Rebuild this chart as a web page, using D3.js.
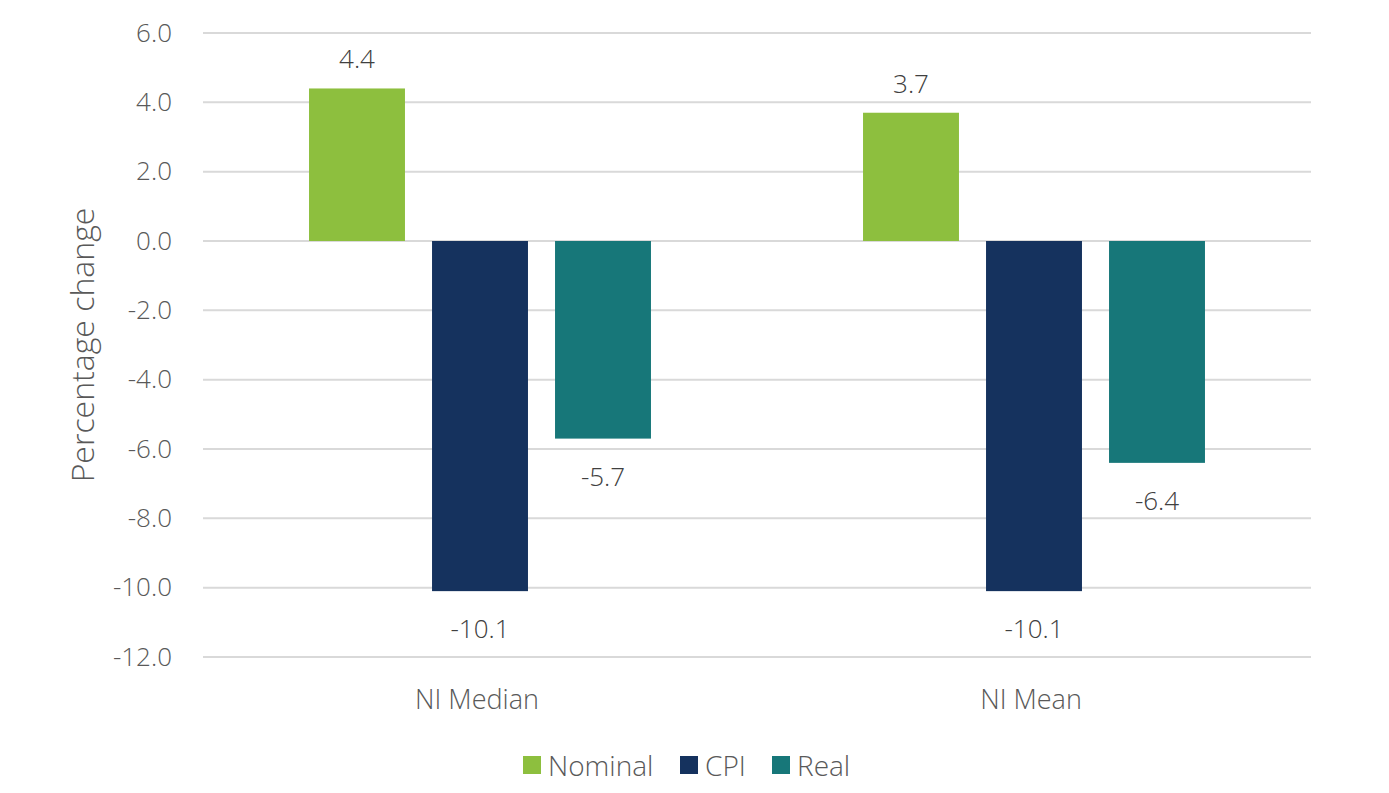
<!DOCTYPE html>
<html>
<head>
<meta charset="utf-8">
<script src="https://cdn.jsdelivr.net/npm/d3@7"></script>
<style>
  html, body { margin: 0; padding: 0; background: #ffffff; }
  svg { display: block; font-family: "Open Sans", sans-serif; font-weight: 300; }
</style>
</head>
<body>
<svg id="chart" width="1389" height="793"></svg>
<script>
const categories = ["NI Median", "NI Mean"];
const seriesNames = ["Nominal", "CPI", "Real"];
const nominalValues = [4.4, 3.7];
const cpiValues = [-10.1, -10.1];
const realValues = [-5.7, -6.4];
const yTicks = [6, 4, 2, 0, -2, -4, -6, -8, -10, -12];
const yTitle = "Percentage change";

const seriesValues = [nominalValues, cpiValues, realValues];
const colors = ["#8dbf3e", "#15325e", "#177779"];

const fmt = v => d3.format(".1f")(v).replace("\u2212", "-");

const svg = d3.select("#chart");
const margin = { left: 203, right: 78, top: 33, bottom: 136 };
const W = 1389, H = 793;

const x0 = d3.scaleBand().domain(categories).range([margin.left, W - margin.right]).paddingInner(0).paddingOuter(0);
const x1 = d3.scaleBand().domain(seriesNames).range([0, x0.bandwidth()]).paddingInner(0.22).paddingOuter(0.862);
const y = d3.scaleLinear().domain([-12, 6]).range([H - margin.bottom, margin.top]);

const textColor = "#595959";

// gridlines
svg.append("g")
  .selectAll("line")
  .data(yTicks)
  .join("line")
  .attr("x1", margin.left)
  .attr("x2", W - margin.right)
  .attr("y1", d => y(d))
  .attr("y2", d => y(d))
  .attr("stroke", "#d9d9d9")
  .attr("stroke-width", 2);

// y axis labels
const yAxis = d3.axisLeft(y).tickValues(yTicks).tickFormat(fmt).tickSize(0).tickPadding(31);
const gy = svg.append("g").attr("transform", `translate(${margin.left},0)`).call(yAxis);
gy.select(".domain").remove();
gy.selectAll("text").attr("fill", textColor).style("font-size", "26px").style("font-family", "'Open Sans', sans-serif").style("font-weight", 300);

// y title
svg.append("text")
  .attr("transform", `translate(81, ${(y(6) + y(-12)) / 2}) rotate(-90)`)
  .attr("text-anchor", "middle")
  .attr("dominant-baseline", "central")
  .attr("fill", textColor)
  .style("font-size", "32px")
  .text(yTitle);

// bars
const groups = svg.append("g")
  .selectAll("g")
  .data(categories)
  .join("g")
  .attr("transform", d => `translate(${x0(d)},0)`);

groups.selectAll("rect")
  .data((c, ci) => seriesNames.map((s, si) => ({ s, si, v: seriesValues[si][ci] })))
  .join("rect")
  .attr("x", d => x1(d.s))
  .attr("width", x1.bandwidth())
  .attr("y", d => y(Math.max(0, d.v)))
  .attr("height", d => Math.abs(y(d.v) - y(0)))
  .attr("fill", d => colors[d.si]);

groups.selectAll("text.val")
  .data((c, ci) => seriesNames.map((s, si) => ({ s, si, v: seriesValues[si][ci] })))
  .join("text")
  .attr("class", "val")
  .attr("x", d => x1(d.s) + x1.bandwidth() / 2)
  .attr("y", d => d.v >= 0 ? y(d.v) - 30 : y(d.v) + 37)
  .attr("text-anchor", "middle")
  .attr("dominant-baseline", "central")
  .attr("fill", "#404040")
  .style("font-size", "26px")
  .text(d => fmt(d.v));

// category labels
svg.append("g")
  .selectAll("text")
  .data(categories)
  .join("text")
  .attr("x", d => x0(d) + x0.bandwidth() / 2 - 3)
  .attr("y", 698)
  .attr("text-anchor", "middle")
  .attr("dominant-baseline", "central")
  .attr("fill", textColor)
  .style("font-size", "27px")
  .text(d => d);

// legend
const legendX = [523, 680, 772];
const legend = svg.append("g")
  .selectAll("g")
  .data(seriesNames)
  .join("g")
  .attr("transform", (d, i) => `translate(${legendX[i]}, 765)`);
legend.append("rect")
  .attr("x", 0).attr("y", -9).attr("width", 18).attr("height", 18)
  .attr("fill", (d, i) => colors[i]);
legend.append("text")
  .attr("x", 25).attr("y", 0)
  .attr("dominant-baseline", "central")
  .attr("fill", textColor)
  .style("font-size", "28px")
  .text(d => d);
</script>
</body>
</html>
